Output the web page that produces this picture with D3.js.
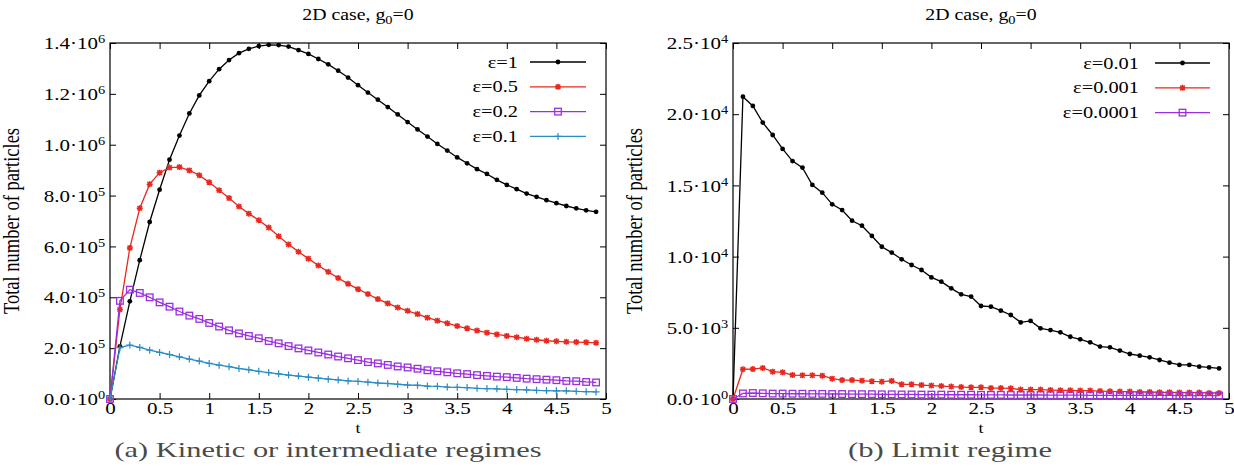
<!DOCTYPE html>
<html>
<head>
<meta charset="utf-8">
<script src="https://cdn.jsdelivr.net/npm/d3@7"></script>
<style>
body { margin: 0; background: #fff; }
text { font-family: "Liberation Serif", "Times New Roman", serif; fill: #000; }
</style>
</head>
<body>
<div id="fig"></div>
<script>
// sampling times (x values)
const tValues = [0, 0.1, 0.2, 0.3, 0.4, 0.5, 0.6, 0.7, 0.8, 0.9,
  1.0, 1.1, 1.2, 1.3, 1.4, 1.5, 1.6, 1.7, 1.8, 1.9,
  2.0, 2.1, 2.2, 2.3, 2.4, 2.5, 2.6, 2.7, 2.8, 2.9,
  3.0, 3.1, 3.2, 3.3, 3.4, 3.5, 3.6, 3.7, 3.8, 3.9,
  4.0, 4.1, 4.2, 4.3, 4.4, 4.5, 4.6, 4.7, 4.8, 4.9];

// panel (a)
const eps1 = [0, 2.07e5, 3.84e5, 5.46e5, 6.96e5, 8.23e5, 9.41e5, 1.036e6, 1.123e6, 1.194e6,
  1.25e6, 1.297e6, 1.333e6, 1.36e6, 1.377e6, 1.388e6, 1.393e6, 1.392e6, 1.386e6, 1.372e6,
  1.357e6, 1.337e6, 1.316e6, 1.291e6, 1.264e6, 1.234e6, 1.205e6, 1.177e6, 1.148e6, 1.119e6,
  1.089e6, 1.06e6, 1.032e6, 1.003e6, 9.77e5, 9.5e5, 9.27e5, 9.04e5, 8.85e5, 8.62e5,
  8.42e5, 8.25e5, 8.08e5, 7.95e5, 7.82e5, 7.7e5, 7.59e5, 7.5e5, 7.42e5, 7.36e5];
const eps05 = [0, 3.52e5, 5.94e5, 7.5e5, 8.45e5, 8.9e5, 9.1e5, 9.12e5, 8.99e5, 8.8e5,
  8.52e5, 8.21e5, 7.9e5, 7.57e5, 7.29e5, 7.03e5, 6.74e5, 6.4e5, 6.08e5, 5.79e5,
  5.52e5, 5.25e5, 5.0e5, 4.76e5, 4.53e5, 4.32e5, 4.13e5, 3.93e5, 3.76e5, 3.6e5,
  3.47e5, 3.34e5, 3.2e5, 3.08e5, 2.98e5, 2.87e5, 2.78e5, 2.69e5, 2.61e5, 2.54e5,
  2.48e5, 2.43e5, 2.37e5, 2.33e5, 2.29e5, 2.27e5, 2.25e5, 2.24e5, 2.23e5, 2.21e5];
const eps02 = [0, 3.86e5, 4.3e5, 4.17e5, 4.0e5, 3.8e5, 3.63e5, 3.44e5, 3.28e5, 3.15e5,
  2.99e5, 2.85e5, 2.7e5, 2.58e5, 2.48e5, 2.39e5, 2.28e5, 2.19e5, 2.08e5, 1.99e5,
  1.91e5, 1.83e5, 1.75e5, 1.67e5, 1.6e5, 1.53e5, 1.45e5, 1.4e5, 1.34e5, 1.28e5,
  1.24e5, 1.19e5, 1.13e5, 1.09e5, 1.05e5, 1.01e5, 9.8e4, 9.4e4, 9.1e4, 8.8e4,
  8.6e4, 8.3e4, 8.0e4, 7.8e4, 7.6e4, 7.4e4, 7.1e4, 7.0e4, 6.7e4, 6.5e4];
const eps01 = [0, 2.02e5, 2.12e5, 2.03e5, 1.92e5, 1.83e5, 1.75e5, 1.66e5, 1.57e5, 1.49e5,
  1.4e5, 1.33e5, 1.27e5, 1.2e5, 1.15e5, 1.09e5, 1.04e5, 9.9e4, 9.4e4, 9.0e4,
  8.6e4, 8.2e4, 7.8e4, 7.5e4, 7.1e4, 6.9e4, 6.6e4, 6.3e4, 6.1e4, 5.8e4,
  5.5e4, 5.4e4, 5.1e4, 5.0e4, 4.7e4, 4.6e4, 4.5e4, 4.2e4, 4.1e4, 4.0e4,
  3.8e4, 3.7e4, 3.6e4, 3.4e4, 3.3e4, 3.2e4, 3.2e4, 3.0e4, 2.9e4, 2.8e4];

// panel (b)
const eps001 = [0, 21230, 20580, 19410, 18540, 17560, 16710, 16250, 15030, 14490,
  13670, 13270, 12520, 12170, 11450, 10690, 10280, 9810, 9410, 9060,
  8540, 8240, 7770, 7350, 7190, 6530, 6480, 6200, 5900, 5380,
  5480, 4960, 4840, 4680, 4370, 4190, 3980, 3680, 3630, 3400,
  3160, 3040, 2930, 2740, 2550, 2390, 2390, 2270, 2220, 2150];
const eps0001 = [0, 2090, 2100, 2180, 1920, 1870, 1680, 1660, 1660, 1640,
  1430, 1330, 1330, 1290, 1240, 1220, 1270, 1030, 1030, 980,
  940, 910, 870, 840, 820, 820, 770, 770, 750, 660,
  660, 660, 630, 610, 610, 590, 590, 560, 540, 520,
  520, 490, 490, 470, 470, 450, 450, 450, 420, 420];
const eps00001 = [0, 390, 420, 400, 380, 380, 370, 370, 360, 360,
  350, 350, 340, 340, 340, 330, 330, 320, 320, 310,
  310, 310, 300, 300, 300, 290, 290, 290, 280, 280,
  280, 280, 270, 270, 270, 270, 260, 260, 260, 260,
  250, 250, 250, 250, 250, 240, 240, 240, 240, 240];

// ticks
const xTicks = [0, 0.5, 1, 1.5, 2, 2.5, 3, 3.5, 4, 4.5, 5];
const xTickLabels = ["0", "0.5", "1", "1.5", "2", "2.5", "3", "3.5", "4", "4.5", "5"];
const yTicksA = [0, 2e5, 4e5, 6e5, 8e5, 1e6, 1.2e6, 1.4e6];
const yTickLabelsA = ["0.0·10^0", "2.0·10^5", "4.0·10^5", "6.0·10^5", "8.0·10^5", "1.0·10^6", "1.2·10^6", "1.4·10^6"];
const yTicksB = [0, 5e3, 1e4, 1.5e4, 2e4, 2.5e4];
const yTickLabelsB = ["0.0·10^0", "5.0·10^3", "1.0·10^4", "1.5·10^4", "2.0·10^4", "2.5·10^4"];

const seriesNamesA = ["ε=1", "ε=0.5", "ε=0.2", "ε=0.1"];
const seriesNamesB = ["ε=0.01", "ε=0.001", "ε=0.0001"];

const colors = { black: "#000000", red: "#e8281e", purple: "#9a2ee0", blue: "#2a8cc4" };

const width = 1234, height = 468;
const SX = 1.2; // glyphs in the picture are a little wide

const svg = d3.select("#fig").append("svg")
  .attr("width", width)
  .attr("height", height);

function marker(g, type, color) {
  if (type === "circle") {
    g.append("circle").attr("r", 2.4).attr("fill", color);
  } else if (type === "star") {
    g.append("path")
      .attr("d", "M-3,0H3M0,-3V3M-2.3,-2.3L2.3,2.3M-2.3,2.3L2.3,-2.3")
      .attr("stroke", color).attr("stroke-width", 1.5).attr("fill", "none");
  } else if (type === "square") {
    g.append("rect").attr("x", -3.3).attr("y", -3.3).attr("width", 6.6).attr("height", 6.6)
      .attr("stroke", color).attr("stroke-width", 1.3).attr("fill", "none");
  } else {
    g.append("path")
      .attr("d", "M-3.5,0H3.5M0,-3.5V3.5")
      .attr("stroke", color).attr("stroke-width", 1.2).attr("fill", "none");
  }
}

function supLabel(textSel, label) {
  const parts = label.split("^");
  textSel.text(null);
  textSel.append("tspan").text(parts[0]);
  textSel.append("tspan").attr("dy", "-0.5em").attr("font-size", 12).text(parts[1]);
}

function panel(cfg) {
  const x = d3.scaleLinear().domain([0, 5]).range([cfg.left, cfg.right]);
  const y = d3.scaleLinear().domain([0, cfg.ymax]).range([cfg.bottom, cfg.top]);
  const g = svg.append("g");

  // axes, gnuplot style: inward ticks on all four sides
  const bottom = g.append("g").attr("transform", `translate(0,${cfg.bottom})`)
    .call(d3.axisBottom(x).tickValues(xTicks).tickSize(-6).tickPadding(3)
      .tickFormat((d, i) => xTickLabels[i]));
  g.append("g").attr("transform", `translate(0,${cfg.top})`)
    .call(d3.axisTop(x).tickValues(xTicks).tickSize(-6).tickFormat(""));
  const left = g.append("g").attr("transform", `translate(${cfg.left},0)`)
    .call(d3.axisLeft(y).tickValues(cfg.yTicks).tickSize(-6).tickPadding(4)
      .tickFormat((d, i) => cfg.yLabels[i]));
  g.append("g").attr("transform", `translate(${cfg.right},0)`)
    .call(d3.axisRight(y).tickValues(cfg.yTicks).tickSize(-6).tickFormat(""));

  g.selectAll(".domain").remove();
  g.selectAll(".tick line").attr("stroke", "#000");

  bottom.selectAll("text")
    .attr("font-size", 17.5).attr("font-family", "Liberation Serif").attr("fill", "#000")
    .attr("transform", `scale(${SX},1)`);
  left.selectAll("text")
    .attr("font-size", 17.5).attr("font-family", "Liberation Serif").attr("fill", "#000")
    .attr("transform", `scale(${SX},1)`)
    .each(function(d, i) { supLabel(d3.select(this), cfg.yLabels[i]); });

  // frame
  g.append("rect")
    .attr("x", cfg.left).attr("y", cfg.top)
    .attr("width", cfg.right - cfg.left).attr("height", cfg.bottom - cfg.top)
    .attr("fill", "none").attr("stroke", "#000").attr("stroke-width", 1.2);

  // title
  const cx = (cfg.left + cfg.right) / 2;
  const title = g.append("text")
    .attr("transform", `translate(${cx},20) scale(${SX},1)`)
    .attr("text-anchor", "middle").attr("font-size", 16.5);
  title.append("tspan").text("2D case, g");
  title.append("tspan").attr("dy", 4).attr("font-size", 12).text("0");
  title.append("tspan").attr("dy", -4).text("=0");

  // axis titles
  g.append("text")
    .attr("transform", `translate(${cx},433) scale(${SX},1)`)
    .attr("text-anchor", "middle").attr("font-size", 15).text("t");
  g.append("text")
    .attr("transform", `translate(${cfg.left - 91},${(cfg.top + cfg.bottom) / 2}) rotate(-90) scale(1,${SX})`)
    .attr("text-anchor", "middle").attr("font-size", 18.5).text("Total number of particles");

  // caption
  g.append("text")
    .attr("x", cfg.captionX).attr("y", 457)
    .attr("text-anchor", "middle").attr("font-size", 22).style("fill", "#4a4a4a")
    .attr("textLength", cfg.captionW).attr("lengthAdjust", "spacingAndGlyphs")
    .text(cfg.caption);

  // series
  const line = d3.line().x((d, i) => x(tValues[i])).y(d => y(d));
  cfg.series.forEach((s, k) => {
    g.append("path").datum(s.values)
      .attr("d", line)
      .attr("fill", "none")
      .attr("stroke", s.color)
      .attr("stroke-width", 1.3);
    g.append("g").selectAll("g").data(s.values).join("g")
      .attr("transform", (d, i) => `translate(${x(tValues[i])},${y(d)})`)
      .each(function() { marker(d3.select(this), s.marker, s.color); });

    // legend row
    const ly = cfg.legendY + k * 24.8;
    g.append("text")
      .attr("transform", `translate(${cfg.legendTextX},${ly + 5.5}) scale(${SX},1)`)
      .attr("text-anchor", "end").attr("font-size", 17).text(s.name);
    g.append("line")
      .attr("x1", cfg.legendLineX[0]).attr("x2", cfg.legendLineX[1])
      .attr("y1", ly).attr("y2", ly)
      .attr("stroke", s.color).attr("stroke-width", 1.3);
    const lm = g.append("g")
      .attr("transform", `translate(${(cfg.legendLineX[0] + cfg.legendLineX[1]) / 2},${ly})`);
    marker(lm, s.marker, s.color);
  });
}

panel({
  left: 110, right: 606, top: 43, bottom: 399,
  ymax: 1.4e6, yTicks: yTicksA, yLabels: yTickLabelsA,
  caption: "(a) Kinetic or intermediate regimes", captionX: 328, captionW: 427,
  legendY: 62, legendTextX: 518, legendLineX: [530, 586],
  series: [
    { name: seriesNamesA[0], values: eps1, color: colors.black, marker: "circle" },
    { name: seriesNamesA[1], values: eps05, color: colors.red, marker: "star" },
    { name: seriesNamesA[2], values: eps02, color: colors.purple, marker: "square" },
    { name: seriesNamesA[3], values: eps01, color: colors.blue, marker: "plus" }
  ]
});

panel({
  left: 733, right: 1229, top: 43, bottom: 399,
  ymax: 2.5e4, yTicks: yTicksB, yLabels: yTickLabelsB,
  caption: "(b) Limit regime", captionX: 950, captionW: 204,
  legendY: 63, legendTextX: 1139, legendLineX: [1155, 1210],
  series: [
    { name: seriesNamesB[0], values: eps001, color: colors.black, marker: "circle" },
    { name: seriesNamesB[1], values: eps0001, color: colors.red, marker: "star" },
    { name: seriesNamesB[2], values: eps00001, color: colors.purple, marker: "square" }
  ]
});
</script>
</body>
</html>
